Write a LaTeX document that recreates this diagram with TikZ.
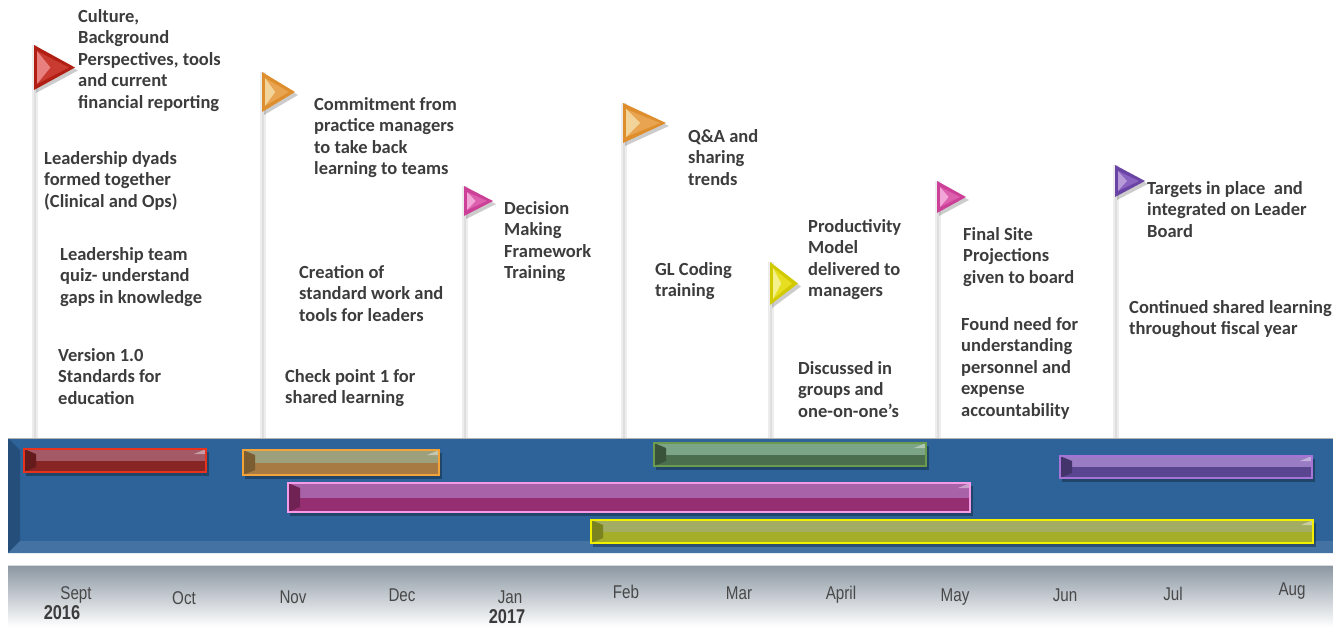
\documentclass[tikz,border=0pt]{standalone}
\usepackage{fontspec}
\setmainfont{Carlito}
\newfontfamily\monthfont[FakeStretch=0.82]{Liberation Sans}
\usetikzlibrary{positioning,shapes}

\definecolor{txtgray}{HTML}{3C3C3C}
\definecolor{mongray}{HTML}{484848}
\definecolor{bandblue}{HTML}{2E6399}
\definecolor{axistop}{HTML}{8A96A2}
% bar colours
\definecolor{redtop}{HTML}{A35A66}\definecolor{redbot}{HTML}{872424}\definecolor{redrim}{HTML}{E8321E}
\definecolor{ortop}{HTML}{9DA07C}\definecolor{orbot}{HTML}{A67A42}\definecolor{orrim}{HTML}{F2A43A}
\definecolor{magtop}{HTML}{A862A8}\definecolor{magbot}{HTML}{962E72}\definecolor{magrim}{HTML}{F59AE6}
\definecolor{grtop}{HTML}{7CA486}\definecolor{grbot}{HTML}{4B6E4E}\definecolor{grrim}{HTML}{6C9A4E}
\definecolor{putop}{HTML}{9A7CC4}\definecolor{pubot}{HTML}{5A4590}\definecolor{purim}{HTML}{A673D6}
\definecolor{yetop}{HTML}{A2AC62}\definecolor{yebot}{HTML}{A4AE28}\definecolor{yerim}{HTML}{F2F000}
% flag colours
\definecolor{fredlight}{HTML}{E88080}\definecolor{fredmid}{HTML}{C93A30}\definecolor{freddark}{HTML}{B01E14}
\definecolor{forlight}{HTML}{F2D49A}\definecolor{formid}{HTML}{E8A450}\definecolor{fordark}{HTML}{DE8E2C}
\definecolor{fpilight}{HTML}{F2A6D8}\definecolor{fpimid}{HTML}{DC60AE}\definecolor{fpidark}{HTML}{CC4098}
\definecolor{fyelight}{HTML}{F4F08A}\definecolor{fyemid}{HTML}{E6DE20}\definecolor{fyedark}{HTML}{D2CA00}
\definecolor{fpulight}{HTML}{B79AD8}\definecolor{fpumid}{HTML}{8A62C0}\definecolor{fpudark}{HTML}{6A44A4}

% x1,y1,x2,y2,colour
\newcommand\ganttbar[5]{%
  \fill[black,opacity=.3] (#1+2,#2+3) rectangle (#3+3,#4+4);
  \fill[#5bot] (#1,#2) rectangle (#3,#4);
  \fill[#5top] (#1,#2) rectangle (#3,{(#2+#4)/2});
  \fill[#5bot!75!black] (#1,#2) -- ({#1+12},{#2+5}) -- ({#1+12},{#4-5}) -- (#1,#4) -- cycle;
  \fill[#5top!60!white] (#3,#2) -- ({#3-12},{#2+5}) -- (#3,{#2+5}) -- cycle;
  \draw[#5rim,line width=1.6pt] (#1,#2) rectangle (#3,#4);
}
% name,x,ytop,ybot,xtip,colour
\newcommand\flagmark[6]{%
  \coordinate (#1) at (#2+1,#3);
  \draw[pole] (#1) -- (#1 |- bandtop);
  \draw[polecore] (#1) -- (#1 |- bandtop);
  \fill[black,opacity=.2] (#2+2,#3+3) -- (#5+3,{(#3+#4)/2+3}) -- (#2+2,#4+3) -- cycle;
  \fill[#6dark] (#2,#3) -- (#5,{(#3+#4)/2}) -- (#2,#4) -- cycle;
  \fill[#6mid] (#2+3,#3+6) -- (#5-6,{(#3+#4)/2}) -- (#2+3,#4-6) -- cycle;
  \fill[#6light] (#2+3,#3+6) -- ({#2+(#5-#2)*0.4},{(#3+#4)/2}) -- (#2+3,#4-6) -- cycle;
}

\begin{document}
\begin{tikzpicture}[x=1pt,y=-1pt,
    note/.style={align=left,anchor=north west,inner sep=0pt,text=txtgray,
      font=\fontsize{18.5}{21.5}\selectfont\bfseries},
    month/.style={text=mongray,inner sep=0pt,font=\monthfont\fontsize{18.5}{20}\selectfont},
    year/.style={text=txtgray,inner sep=0pt,font=\monthfont\fontsize{20}{22}\selectfont\bfseries},
    pole/.style={line width=6pt,draw=black!7},
    polecore/.style={line width=2.5pt,draw=black!13}
  ]
  \useasboundingbox (0,0) rectangle (1333,627);
  \coordinate (bandtop) at (0,438);

  % blue band and axis strip
  \fill[bandblue] (8,438) rectangle (1333,553);
  \fill[bandblue!80!black] (8,438) -- (20,450) -- (20,541) -- (8,553) -- cycle;
  \fill[bandblue!90!white] (8,553) -- (20,541) -- (1333,541) -- (1333,553) -- cycle;
  \draw[black!30] (8,438) -- (1333,438);
  \shade[top color=axistop,bottom color=white] (8,565) rectangle (1333,627);
  \draw[black!15] (8,565) -- (1333,565);

  % flags on poles
  \flagmark{fsep}{34}{45}{90}{75}{fred}
  \flagmark{fnov}{262}{72}{112}{295}{for}
  \flagmark{fjan}{464}{186}{216}{493}{fpi}
  \flagmark{ffeb}{623}{103}{143}{666}{for}
  \flagmark{fmar}{770}{262}{305}{798}{fye}
  \flagmark{fmay}{937}{181}{213}{966}{fpi}
  \flagmark{fjun}{1115}{165}{197}{1145}{fpu}

  % bars
  \ganttbar{24}{449}{206}{472}{red}
  \ganttbar{243}{450}{439}{475}{or}
  \ganttbar{654}{443}{926}{466}{gr}
  \ganttbar{1060}{456}{1312}{478}{pu}
  \ganttbar{288}{483}{970}{512}{mag}
  \ganttbar{591}{520}{1313}{543}{ye}

  % notes
  \node[note] (culture) at (78,9) {Culture,\\Background\\Perspectives, tools\\and current\\financial reporting};
  \node[note] (dyads) at (44,151) {Leadership dyads\\formed together\\(Clinical and Ops)};
  \node[note] (quiz) at (60,247) {Leadership team\\quiz- understand\\gaps in knowledge};
  \node[note] (version) at (58,348) {Version 1.0\\Standards for\\education};
  \node[note] (commit) at (314,97) {Commitment from\\practice managers\\to take back\\learning to teams};
  \node[note] (creation) at (299,265) {Creation of\\standard work and\\tools for leaders};
  \node[note] (check) at (285,369) {Check point 1 for\\shared learning};
  \node[note] (decision) at (504,201) {Decision\\Making\\Framework\\Training};
  \node[note] (qa) at (688,129) {Q\&A and\\sharing\\trends};
  \node[note] (coding) at (655,262) {GL Coding\\training};
  \node[note] (model) at (808,219) {Productivity\\Model\\delivered to\\managers};
  \node[note] (discuss) at (798,361) {Discussed in\\groups and\\one-on-one’s};
  \node[note] (site) at (963,227) {Final Site\\Projections\\given to board};
  \node[note] (need) at (961,317) {Found need for\\understanding\\personnel and\\expense\\accountability};
  \node[note] (targets) at (1147,181) {Targets in place~ and\\integrated on Leader\\Board};
  \node[note] (shared) at (1129,300) {Continued shared learning\\throughout fiscal year};

  % months
  \node[month] (sept) at (76,595) {Sept};
  \node[month] (oct) at (184,598) {Oct};
  \node[month] (nov) at (293,597) {Nov};
  \node[month] (dec) at (402,595) {Dec};
  \node[month] (jan) at (510,597) {Jan};
  \node[month] (feb) at (626,592) {Feb};
  \node[month] (mar) at (739,593) {Mar};
  \node[month] (apr) at (841,595) {April};
  \node[month] (may) at (955,597) {May};
  \node[month] (jun) at (1065,595) {Jun};
  \node[month] (jul) at (1173,594) {Jul};
  \node[month] (aug) at (1292,591) {Aug};
  \node[year] (y16) at (62,613) {2016};
  \node[year] (y17) at (507,617) {2017};
\end{tikzpicture}
\end{document}
